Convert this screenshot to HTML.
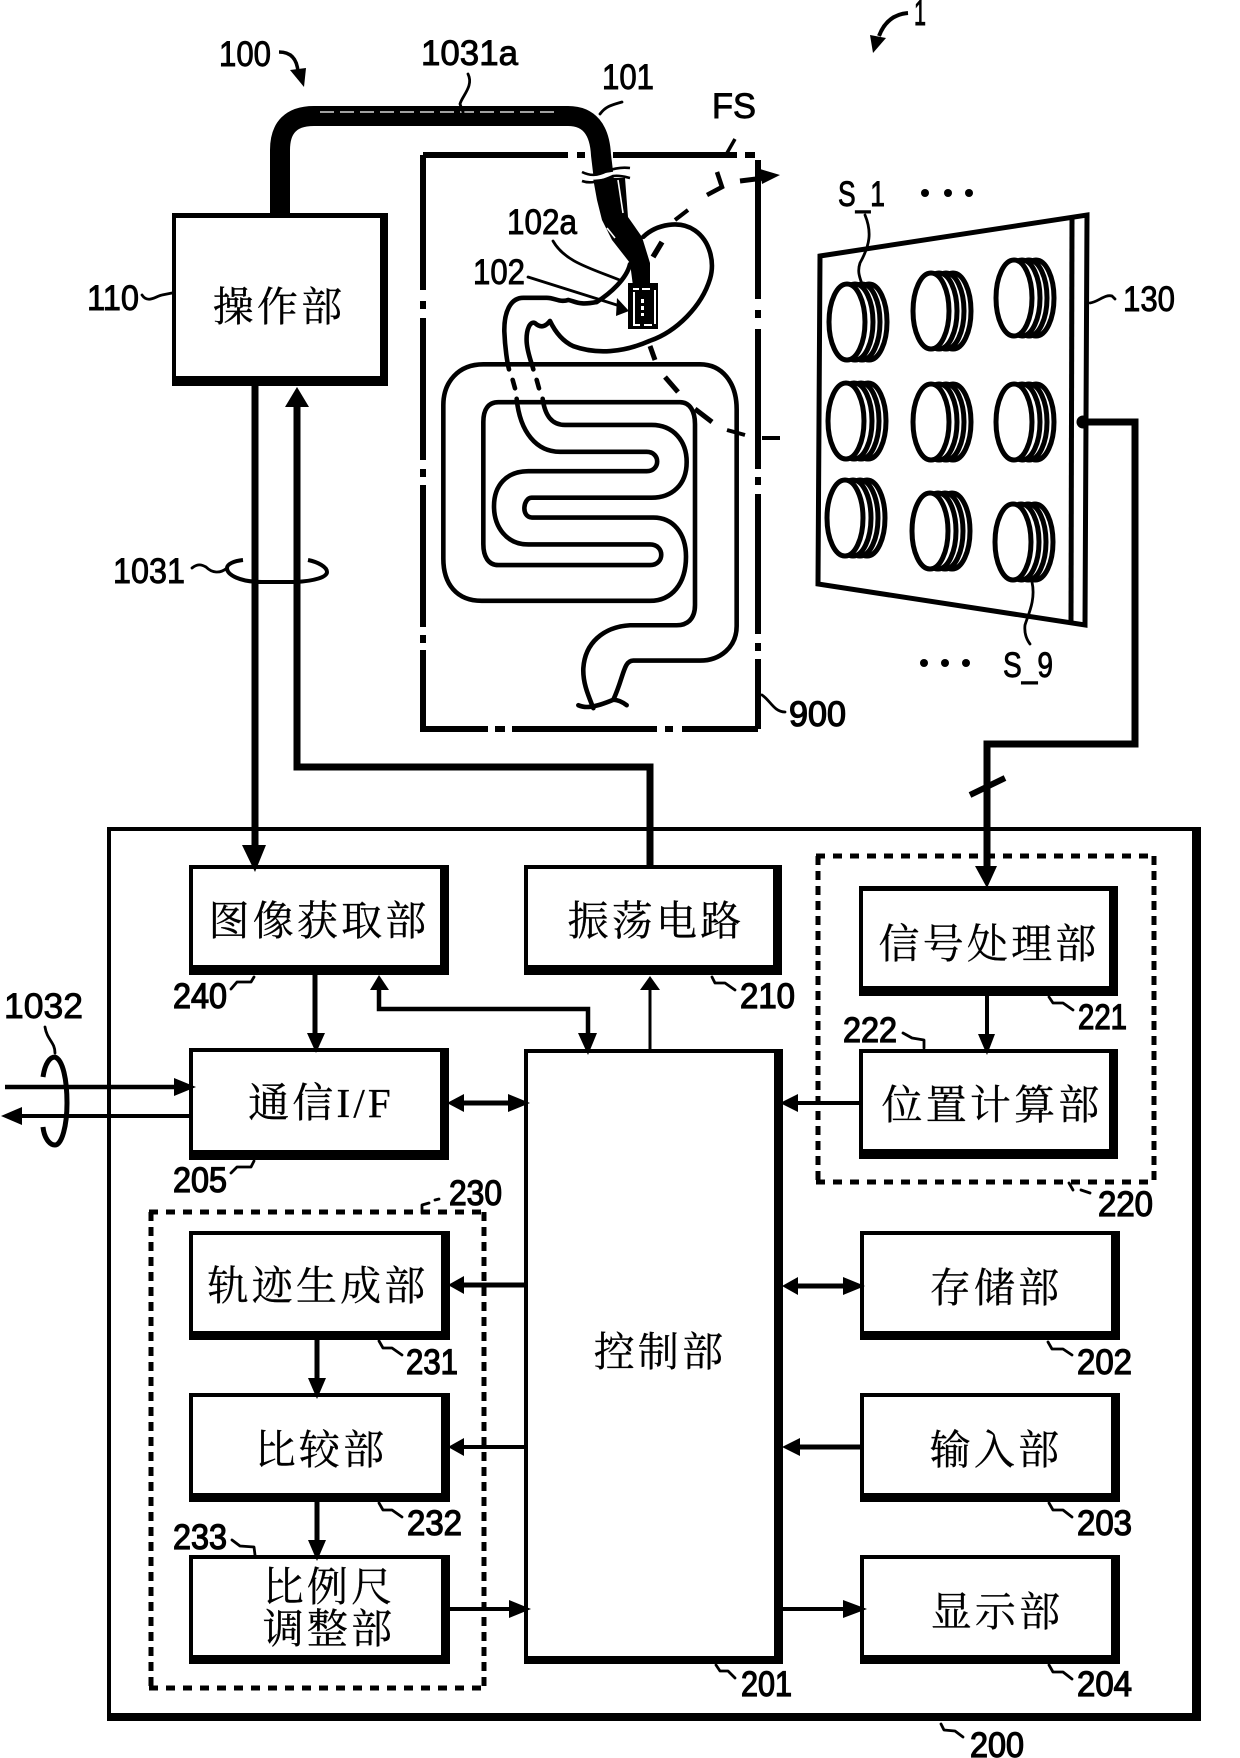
<!DOCTYPE html>
<html><head><meta charset="utf-8"><style>
html,body{margin:0;padding:0;background:#fff}
svg{display:block}
.c{font-family:"Liberation Serif","Noto Serif CJK SC","Noto Sans CJK SC",serif;font-size:41px;text-anchor:middle;letter-spacing:3.2px;fill:#000;stroke:#000;stroke-width:.3}
.n{font-family:"Liberation Sans",sans-serif;font-size:35px;fill:#000;stroke:#000;stroke-width:.9}
.b{font-family:"Liberation Sans",sans-serif;font-size:35px;fill:#000;stroke:#000;stroke-width:1.3}
.l{fill:none;stroke:#000;stroke-width:2.8;stroke-linejoin:round;stroke-linecap:round}
.w{fill:none;stroke:#000;stroke-linejoin:miter}
.o path{fill:none;stroke:#000;stroke-width:4.6;vector-effect:non-scaling-stroke;stroke-linejoin:round;stroke-linecap:round}
.box{fill:#fff;stroke:none}
</style></head><body>
<svg xmlns="http://www.w3.org/2000/svg" width="1240" height="1758" viewBox="0 0 1240 1758">
<defs>
<g id="s">
<ellipse cx="22" cy="0" rx="18" ry="38" fill="#fff" stroke="#000" stroke-width="5"/>
<ellipse cx="15" cy="0" rx="18" ry="38" fill="#fff" stroke="#000" stroke-width="5"/>
<ellipse cx="8" cy="0" rx="18" ry="38" fill="#fff" stroke="#000" stroke-width="5"/>
<ellipse cx="0" cy="0" rx="18" ry="38" fill="#fff" stroke="#000" stroke-width="5"/>
</g>
</defs>
<rect width="1240" height="1758" fill="#fff"/>

<!-- outer box 200 -->
<path d="M107 827H1201V1721H107Z M111 831V1713H1192V831Z" fill="#000" fill-rule="evenodd"/>

<!-- blocks: black outer, white inner -->
<g>
<path fill="#000" d="M172 213H388V386H172Z"/><rect class="box" x="176" y="218" width="204" height="158"/>
<path fill="#000" d="M189 865H449V975H189Z"/><rect class="box" x="193" y="869" width="247" height="96"/>
<path fill="#000" d="M524 865H782V975H524Z"/><rect class="box" x="528" y="869" width="245" height="96"/>
<path fill="#000" d="M859 886H1118V996H859Z"/><rect class="box" x="863" y="891" width="246" height="95"/>
<path fill="#000" d="M859 1049H1118V1159H859Z"/><rect class="box" x="863" y="1053" width="246" height="96"/>
<path fill="#000" d="M189 1048H449V1160H189Z"/><rect class="box" x="193" y="1052" width="247" height="98"/>
<path fill="#000" d="M524 1049H783V1664H524Z"/><rect class="box" x="528" y="1053" width="246" height="603"/>
<path fill="#000" d="M189 1231H450V1340H189Z"/><rect class="box" x="193" y="1235" width="248" height="96"/>
<path fill="#000" d="M189 1393H450V1502H189Z"/><rect class="box" x="193" y="1397" width="248" height="96"/>
<path fill="#000" d="M189 1555H450V1664H189Z"/><rect class="box" x="193" y="1559" width="248" height="96"/>
<path fill="#000" d="M860 1231H1120V1340H860Z"/><rect class="box" x="864" y="1235" width="247" height="96"/>
<path fill="#000" d="M860 1393H1120V1502H860Z"/><rect class="box" x="864" y="1397" width="247" height="96"/>
<path fill="#000" d="M860 1555H1120V1664H860Z"/><rect class="box" x="864" y="1559" width="247" height="96"/>
</g>

<!-- dashed groups -->
<g fill="none" stroke="#000" stroke-width="5">
<path d="M816 856H1156" stroke-dasharray="9 8"/>
<path d="M816 1182H1156" stroke-dasharray="9 8"/>
<path d="M818 856V1182" stroke-dasharray="9 6"/>
<path d="M1154 856V1182" stroke-dasharray="9 6"/>
<path d="M149 1212H485" stroke-dasharray="9 8"/>
<path d="M149 1688H485" stroke-dasharray="9 8"/>
<path d="M151 1212V1688" stroke-dasharray="9 6"/>
<path d="M484 1212V1688" stroke-dasharray="9 6"/>
</g>

<!-- block text -->
<text class="c" x="279" y="321">操作部</text>
<text class="c" x="319" y="935">图像获取部</text>
<text class="c" x="656" y="935">振荡电路</text>
<text class="c" x="989" y="958">信号处理部</text>
<text class="c" x="992" y="1119">位置计算部</text>
<text class="c" x="321" y="1117">通信I/F</text>
<text class="c" x="318" y="1300">轨迹生成部</text>
<text class="c" x="321" y="1464">比较部</text>
<text class="c" x="329" y="1601">比例尺</text>
<text class="c" x="329" y="1643">调整部</text>
<text class="c" x="660" y="1366">控制部</text>
<text class="c" x="996" y="1302">存储部</text>
<text class="c" x="996" y="1464">输入部</text>
<text class="c" x="997" y="1626">显示部</text>

<!-- connectors -->
<g class="w">
<path d="M255 386V850" stroke-width="7"/>
<path d="M650 867V767H297V405" stroke-width="7"/>
<path d="M315 975V1036" stroke-width="5"/>
<path d="M379 988V1009H588V1036" stroke-width="4.5"/>
<path d="M650 1049V988" stroke-width="3"/>
<path d="M987 996V1036" stroke-width="4"/>
<path d="M970 795L1005 778" stroke-width="6"/>
<path d="M859 1103H795" stroke-width="4"/>
<path d="M460 1103H512" stroke-width="5"/>
<path d="M5 1087H176" stroke-width="4.5"/>
<path d="M189 1116H20" stroke-width="4"/>
<path d="M795 1286H845" stroke-width="5"/>
<path d="M860 1447H798" stroke-width="5"/>
<path d="M783 1609H845" stroke-width="4"/>
<path d="M525 1285H462" stroke-width="5"/>
<path d="M525 1447H462" stroke-width="4"/>
<path d="M450 1609H511" stroke-width="4"/>
<path d="M317 1340V1380" stroke-width="5"/>
<path d="M317 1502V1542" stroke-width="5"/>
</g>
<g fill="#000">
<path d="M242 845H266L255 872Z"/>
<path d="M285 407H309L297 387Z"/>
<path d="M307 1033H325L316 1053Z"/>
<path d="M370 990H389L379 975Z"/>
<path d="M578 1033H597L588 1055Z"/>
<path d="M640 990H660L650 976Z"/>
<path d="M978 1034H995L987 1055Z"/>
<path d="M975 866H997L987 888Z"/>
<path d="M798 1094V1112L780 1103Z"/>
<path d="M464 1094V1112L447 1103Z"/>
<path d="M508 1094V1112L530 1103Z"/>
<path d="M174 1078V1096L196 1087Z"/>
<path d="M22 1107V1125L1 1116Z"/>
<path d="M798 1277V1295L782 1286Z"/>
<path d="M843 1277V1295L865 1286Z"/>
<path d="M800 1438V1456L782 1447Z"/>
<path d="M843 1600V1618L867 1609Z"/>
<path d="M464 1276V1294L448 1285Z"/>
<path d="M464 1438V1456L448 1447Z"/>
<path d="M509 1600V1618L531 1609Z"/>
<path d="M308 1378H326L317 1399Z"/>
<path d="M308 1540H326L317 1561Z"/>
</g>

<!-- 1032 loop and 1031 loop -->
<path d="M43 1077C45 1063 50 1057 55 1057C63 1060 67 1080 67 1103C67 1125 62 1145 55 1145C49 1145 44 1137 43 1127" fill="none" stroke="#000" stroke-width="5"/>
<path d="M243 560C234 561 227 564 227 568C227 575 240 582 262 582H295C315 581 327 577 327 572C327 567 318 562 308 560" fill="none" stroke="#000" stroke-width="4"/>

<!-- frame 900 -->
<g stroke="#000" stroke-width="6" fill="none">
<path d="M423 155H568M577 155H585M613 155H737M745 155H755"/>
<path d="M423 155V290M423 301V309M423 318V460M423 469V477M423 485V627M423 635V643M423 650V729"/>
<path d="M758 160V299M758 310V318M758 329V469M758 477V485M758 494V634M758 643V651M758 659V729"/>
<path d="M420 729H488M495 729H505M512 729H657M665 729H673M682 729H758"/>
</g>

<!-- organs in zoom coordinates -->
<g class="o" transform="translate(400 100) scale(.33333 .42088)">
<path d="M730 325C770 295 840 285 885 310C930 335 945 385 930 425C905 490 830 550 750 572C670 600 590 605 520 585C485 572 465 550 450 525C440 535 425 545 405 530C390 525 378 545 380 575C382 600 395 625 400 640"/>
<path d="M410 665L417 685"/>
<path d="M428 710C435 750 455 772 495 772H755C820 772 860 810 860 860C860 915 815 945 755 945H395C370 945 362 990 395 992H760C820 992 858 1030 858 1085C858 1150 815 1190 750 1190H245C170 1190 130 1150 130 1090V725C130 670 175 628 250 628H900C965 628 1010 670 1010 735V1250C1010 1300 960 1332 900 1332H700C670 1332 672 1370 640 1425"/>
<path d="M590 480C540 488 530 480 505 475C480 482 465 470 440 470H370C330 470 312 505 313 550C315 590 322 625 327 640"/>
<path d="M338 665L345 685"/>
<path d="M350 710C360 790 410 836 480 836H740C782 836 782 882 740 882H385C320 882 282 915 282 965C282 1015 320 1056 385 1056H750C795 1056 795 1105 750 1105H295C265 1105 250 1085 250 1055V765C250 735 265 718 295 718H840C870 718 885 740 885 770V1200C885 1235 860 1248 830 1248H690C610 1252 555 1290 550 1350C548 1385 565 1415 580 1445"/>
<path d="M535 1438C555 1445 580 1445 640 1425C655 1425 670 1432 680 1438"/>
<path d="M590 480C630 460 680 425 690 390"/>
</g>

<!-- FS plane dashes -->
<g fill="none" stroke="#000" stroke-width="5">
<path d="M740 181L764 178"/>
<path d="M707 195L722 187L717 172" stroke-width="4.5"/>
<path d="M675 220L688 210" stroke-width="4"/>
<path d="M653 257L662 242" stroke-width="5.5"/>
<path d="M650 346L655 360"/>
<path d="M665 377L678 392"/>
<path d="M695 409L712 422"/>
<path d="M727 430L745 435" stroke-width="4"/>
<path d="M762 438H780" stroke-width="4"/>
<path d="M727 153L735 139" stroke-width="3.5"/>
</g>
<path d="M760 169L780 175L762 184Z" fill="#000"/>

<!-- cable -->
<path d="M280 213V150Q280 116 314 116H568Q599 116 601 155L604 180" fill="none" stroke="#000" stroke-width="20"/>
<path d="M320 112H560" fill="none" stroke="#fff" stroke-width="1.2" stroke-dasharray="14 6"/>
<path d="M593 178L597 200L602 220L612 240L630 263L633 286H650V263L642 237L628 217L625 178Z" fill="#000"/>
<path d="M618 180L623 213" fill="none" stroke="#fff" stroke-width="1.6"/>
<path d="M607 228L615 238" fill="none" stroke="#fff" stroke-width="1.6"/>
<path d="M582 174C593 178 600 172 630 170V177C610 175 600 182 582 179Z" fill="#fff"/>
<path d="M582 172C590 176 597 176 607 171C615 168 622 167 630 168M582 181C590 184 600 182 613 176C620 175 626 177 630 178" fill="none" stroke="#000" stroke-width="2.6"/>

<!-- capsule -->
<rect x="629" y="284" width="28" height="44" fill="#000" stroke="#000" stroke-width="2"/>
<g fill="#fff"><rect x="633" y="288" width="6" height="2"/><rect x="642" y="288" width="8" height="2"/><rect x="654" y="290" width="2" height="34"/><rect x="633" y="292" width="2" height="32"/><rect x="633" y="324" width="7" height="2"/><rect x="644" y="324" width="8" height="2"/><rect x="641" y="299" width="3" height="4"/><rect x="641" y="306" width="3" height="4"/><rect x="641" y="313" width="3" height="3"/></g>
<path d="M528 277L620 306" class="l"/>
<path d="M617 298L629 311L616 316Z" fill="#000"/>
<path d="M553 241C565 262 590 268 622 281" class="l"/>

<!-- sensor panel -->
<path d="M820 256L1087 215L1085 625L818 584Z" fill="#fff" stroke="#000" stroke-width="5" stroke-linejoin="miter"/>
<path d="M1072 218L1071 622" stroke="#000" stroke-width="5" fill="none"/>
<use href="#s" x="847" y="322"/>
<use href="#s" x="931" y="311"/>
<use href="#s" x="1014" y="298"/>
<use href="#s" x="846" y="421"/>
<use href="#s" x="931" y="422"/>
<use href="#s" x="1014" y="422"/>
<use href="#s" x="845" y="518"/>
<use href="#s" x="930" y="531"/>
<use href="#s" x="1013" y="542"/>
<g fill="#000">
<circle cx="925" cy="193" r="4"/><circle cx="948" cy="193" r="4"/><circle cx="969" cy="193" r="4"/>
<circle cx="924" cy="663" r="4"/><circle cx="945" cy="663" r="4"/><circle cx="966" cy="663" r="4"/>
</g>
<!-- wire from panel (over panel) -->
<path class="w" d="M1083 422H1135V744H987V870" stroke-width="7"/>
<circle cx="1083" cy="422" r="6.5" fill="#000"/>

<!-- leaders -->
<g>
<path class="l" d="M865 215C872 232 870 245 860 263C857 272 860 278 862 284"/>
<path class="l" d="M1032 582C1036 600 1028 615 1025 625C1024 634 1027 640 1030 644"/>
<path class="l" d="M1090 303C1098 302 1105 294 1112 296L1115 299"/>
<path class="l" d="M468 74C474 86 462 96 460 104L463 112"/>
<path class="l" d="M600 114C606 106 612 105 622 102"/>
<path class="l" d="M142 295C148 304 156 296 162 295L172 293"/>
<path class="l" d="M192 568C197 564 201 564 206 567C212 573 220 574 227 568"/>
<path class="l" d="M762 695C770 700 774 712 785 712"/>
<path class="l" d="M45 1027C47 1040 55 1042 55 1053"/>
<path class="l" d="M254 1161L251 1167L237 1167L231 1173"/>
<path class="l" d="M254 977L251 982L237 982L231 989"/>
<path class="l" d="M422 1213V1205L429 1203M435 1200L439 1199"/>
<path class="l" d="M712 977L715 983L725 983L735 990"/>
<path class="l" d="M1049 997L1053 1003L1063 1003L1073 1010"/>
<path class="l" d="M903 1033L912 1038L924 1040L924 1048"/>
<path class="l" d="M1069 1183L1073 1190M1081 1190L1090 1193"/>
<path class="l" d="M379 1341L383 1348L392 1348L402 1355"/>
<path class="l" d="M379 1503L383 1510L392 1510L402 1517"/>
<path class="l" d="M232 1540L240 1546L254 1547L255 1555"/>
<path class="l" d="M716 1665L720 1671L728 1671L735 1678"/>
<path class="l" d="M1048 1342L1052 1349L1063 1349L1072 1355"/>
<path class="l" d="M1049 1503L1053 1510L1063 1510L1072 1517"/>
<path class="l" d="M1049 1665L1053 1672L1063 1672L1072 1679"/>
<path class="l" d="M941 1724L944 1730L955 1731L963 1737"/>
</g>

<!-- curved arrows -->
<path d="M279 52C290 52 297 58 298 72" fill="none" stroke="#000" stroke-width="3.5"/>
<path d="M290 70L306 68L304 87Z" fill="#000"/>
<path d="M908 13C896 14 885 20 879 36" fill="none" stroke="#000" stroke-width="4"/>
<path d="M870 35L886 38L873 53Z" fill="#000"/>

<!-- labels -->
<text class="n" x="219" y="66" textLength="52" lengthAdjust="spacingAndGlyphs">100</text>
<text class="n" x="421" y="65" textLength="97" lengthAdjust="spacingAndGlyphs">1031a</text>
<text class="n" x="602" y="89" textLength="52" lengthAdjust="spacingAndGlyphs">101</text>
<text class="n" x="914" y="25" textLength="12" lengthAdjust="spacingAndGlyphs">1</text>
<text class="n" x="87" y="310" textLength="52" lengthAdjust="spacingAndGlyphs">110</text>
<text class="n" x="507" y="234" textLength="70" lengthAdjust="spacingAndGlyphs">102a</text>
<text class="n" x="473" y="284" textLength="52" lengthAdjust="spacingAndGlyphs">102</text>
<text class="n" x="712" y="118" textLength="44" lengthAdjust="spacingAndGlyphs">FS</text>
<text class="n" x="113" y="583" textLength="72" lengthAdjust="spacingAndGlyphs">1031</text>
<text class="b" x="789" y="726" textLength="57" lengthAdjust="spacingAndGlyphs">900</text>
<text class="n" x="4" y="1018" textLength="79" lengthAdjust="spacingAndGlyphs">1032</text>
<text class="n" x="838" y="206" textLength="47" lengthAdjust="spacingAndGlyphs">S_1</text>
<text class="n" x="1003" y="677" textLength="50" lengthAdjust="spacingAndGlyphs">S_9</text>
<text class="n" x="1123" y="311" textLength="52" lengthAdjust="spacingAndGlyphs">130</text>
<text class="b" x="173" y="1008" textLength="54" lengthAdjust="spacingAndGlyphs">240</text>
<text class="b" x="173" y="1192" textLength="54" lengthAdjust="spacingAndGlyphs">205</text>
<text class="b" x="449" y="1205" textLength="53" lengthAdjust="spacingAndGlyphs">230</text>
<text class="b" x="740" y="1008" textLength="55" lengthAdjust="spacingAndGlyphs">210</text>
<text class="b" x="1078" y="1029" textLength="49" lengthAdjust="spacingAndGlyphs">221</text>
<text class="b" x="843" y="1042" textLength="54" lengthAdjust="spacingAndGlyphs">222</text>
<text class="b" x="1098" y="1216" textLength="55" lengthAdjust="spacingAndGlyphs">220</text>
<text class="b" x="406" y="1374" textLength="52" lengthAdjust="spacingAndGlyphs">231</text>
<text class="b" x="407" y="1535" textLength="55" lengthAdjust="spacingAndGlyphs">232</text>
<text class="b" x="173" y="1549" textLength="54" lengthAdjust="spacingAndGlyphs">233</text>
<text class="b" x="741" y="1696" textLength="51" lengthAdjust="spacingAndGlyphs">201</text>
<text class="b" x="1077" y="1374" textLength="55" lengthAdjust="spacingAndGlyphs">202</text>
<text class="b" x="1077" y="1535" textLength="55" lengthAdjust="spacingAndGlyphs">203</text>
<text class="b" x="1077" y="1696" textLength="55" lengthAdjust="spacingAndGlyphs">204</text>
<text class="b" x="970" y="1757" textLength="54" lengthAdjust="spacingAndGlyphs">200</text>
</svg>
</body></html>
